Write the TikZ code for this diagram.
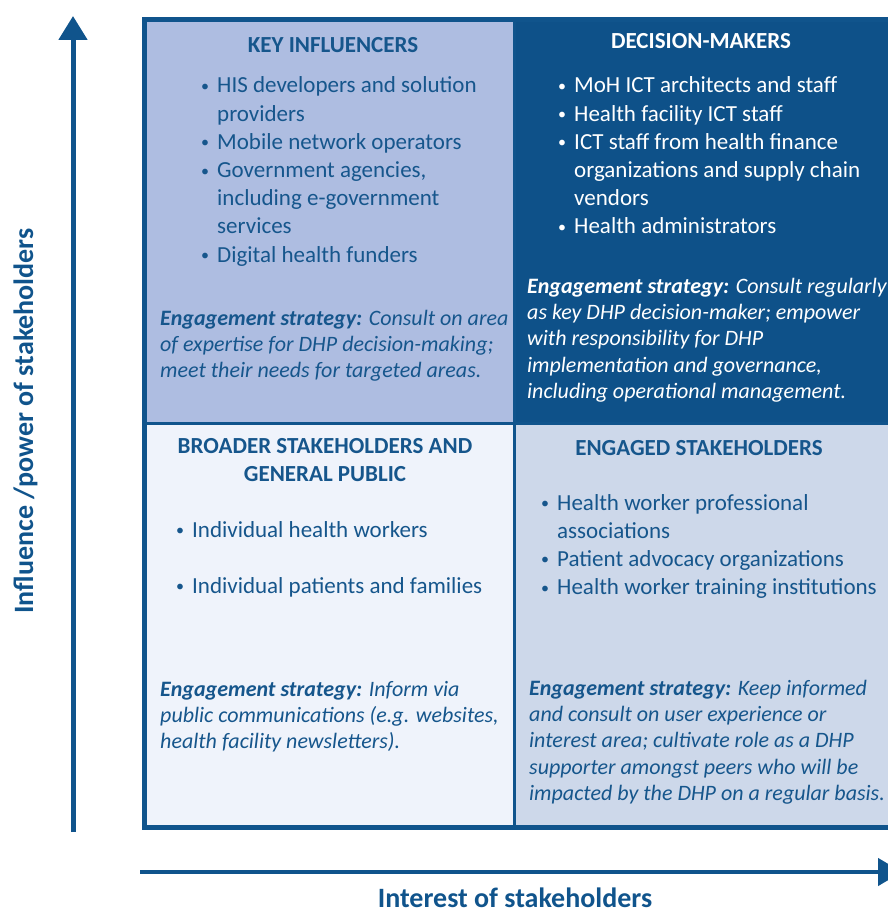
\documentclass[tikz,border=0pt]{standalone}
\usepackage{fontspec}
\setmainfont{Carlito}
\usetikzlibrary{arrows.meta}
\definecolor{frameblue}{RGB}{16,84,140}
\definecolor{txtblue}{RGB}{22,86,140}
\definecolor{tlfill}{RGB}{174,189,225}
\definecolor{trfill}{RGB}{14,81,137}
\definecolor{blfill}{RGB}{239,243,251}
\definecolor{brfill}{RGB}{205,216,234}
\newcommand{\blt}{\makebox[12pt][l]{\hspace*{-4pt}\raisebox{1.5pt}{\fontsize{16}{16}\selectfont •}}}
\newcommand{\ind}{\hspace*{12pt}}
\tikzset{
  cellbox/.style={draw=none, inner sep=0pt, outer sep=0pt, anchor=north west},
  divider/.style={draw=frameblue, line width=3pt},
  outerframe/.style={draw=frameblue, line width=5pt},
  celltitle/.style={anchor=base, inner sep=0pt, font=\bfseries\fontsize{23}{28}\selectfont},
  itemlist/.style={anchor=base west, inner sep=0pt, font=\fontsize{23}{28.2}\selectfont},
  strategy/.style={anchor=base west, inner sep=0pt, font=\itshape\fontsize{22}{26.4}\selectfont},
  axislabel/.style={inner sep=0pt, text=frameblue, font=\bfseries\fontsize{28}{34}\selectfont},
  axisarrow/.style={draw=frameblue, line width=#1},
}
\begin{document}
\begin{tikzpicture}[x=1pt, y=-1pt]
\useasboundingbox (0,0) rectangle (888,915);
\clip (0,0) rectangle (888,915);

% cells
\node[cellbox, fill=tlfill, minimum width=370pt, minimum height=403.5pt] (tl) at (144.5,19.5) {};
\node[cellbox, fill=trfill, minimum width=380.5pt, minimum height=403.5pt] (tr) at (514.5,19.5) {};
\node[cellbox, fill=blfill, minimum width=370pt, minimum height=404.5pt] (bl) at (144.5,423) {};
\node[cellbox, fill=brfill, minimum width=380.5pt, minimum height=404.5pt] (br) at (514.5,423) {};

\draw[divider] (tl.north east) -- (bl.south east);
\draw[divider] (tl.south west) -- (tr.south east);
\draw[outerframe] (tl.north west) rectangle (br.south east);

% top-left
\node[celltitle, text=txtblue] (tltitle) at (333,53) {KEY INFLUENCERS};
\node[itemlist, text=txtblue] (tlitems) at (205,93) {\parbox[t]{300pt}{\blt HIS developers and solution\\\ind providers\\\blt Mobile network operators\\\blt Government agencies,\\\ind including e-government\\\ind services\\\blt Digital health funders}};
\node[strategy, text=txtblue] (tlstrat) at (160,325) {\parbox[t]{360pt}{\textbf{Engagement strategy:} Consult on area\\of expertise for DHP decision-making;\\meet their needs for targeted areas.}};

% top-right
\node[celltitle, text=white] (trtitle) at (701,49) {DECISION-MAKERS};
\node[itemlist, text=white] (tritems) at (562,93) {\parbox[t]{330pt}{\blt MoH ICT architects and staff\\\blt Health facility ICT staff\\\blt ICT staff from health finance\\\ind organizations and supply chain\\\ind vendors\\\blt Health administrators}};
\node[strategy, text=white] (trstrat) at (527,293) {\parbox[t]{370pt}{\textbf{Engagement strategy:} Consult regularly\\as key DHP decision-maker; empower\\with responsibility for DHP\\implementation and governance,\\including operational management.}};

% bottom-left
\node[celltitle, text=txtblue] (bltitle) at (325,453) {\parbox[t]{360pt}{\centering BROADER STAKEHOLDERS AND\\GENERAL PUBLIC}};
\node[itemlist, text=txtblue] (blitems) at (180,537) {\parbox[t]{330pt}{\blt Individual health workers\\[27.8pt]\blt Individual patients and families}};
\node[strategy, text=txtblue] (blstrat) at (160,696) {\parbox[t]{360pt}{\textbf{Engagement strategy:} Inform via\\public communications (e.g. websites,\\health facility newsletters).}};

% bottom-right
\node[celltitle, text=txtblue] (brtitle) at (699,455) {ENGAGED STAKEHOLDERS};
\node[itemlist, text=txtblue] (britems) at (545,510) {\parbox[t]{340pt}{\blt Health worker professional\\\ind associations\\\blt Patient advocacy organizations\\\blt Health worker training institutions}};
\node[strategy, text=txtblue] (brstrat) at (529,695) {\parbox[t]{370pt}{\textbf{Engagement strategy:} Keep informed\\and consult on user experience or\\interest area; cultivate role as a DHP\\supporter amongst peers who will be\\impacted by the DHP on a regular basis.}};

% axes
\coordinate (yfrom) at (73,832);
\coordinate (yto) at (73,16);
\coordinate (xfrom) at (140,872);
\coordinate (xto) at (902,872);
\draw[axisarrow=5pt, -{Triangle[width=28pt,length=24pt]}] (yfrom) -- (yto);
\draw[axisarrow=4.5pt, -{Triangle[width=27pt,length=24pt]}] (xfrom) -- (xto);

\node[axislabel, rotate=90, anchor=base] (ylabel) at (33,421) {Influence /power of stakeholders};
\node[axislabel, anchor=base] (xlabel) at (515,907) {Interest of stakeholders};
\end{tikzpicture}
\end{document}
